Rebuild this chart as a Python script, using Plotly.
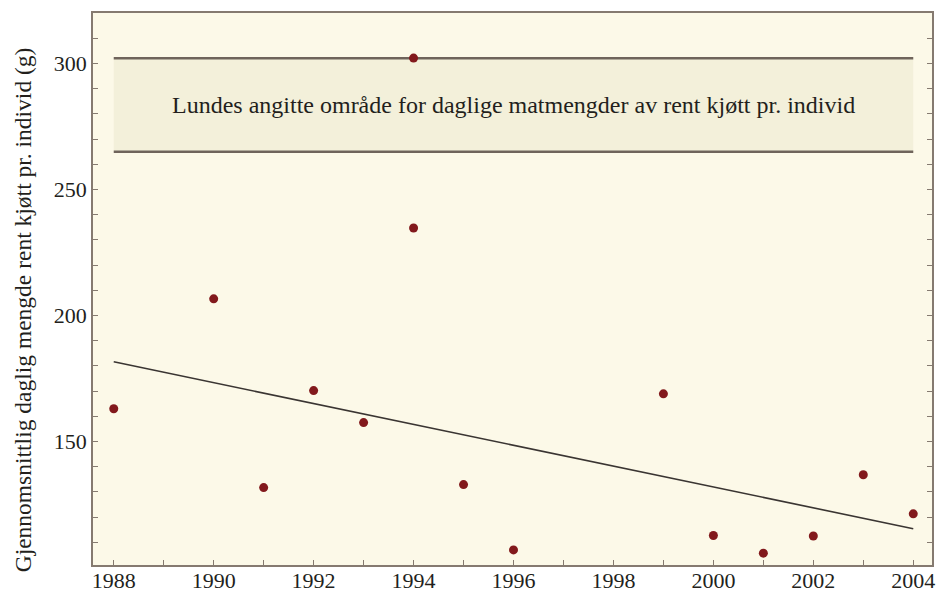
import plotly.graph_objects as go

years = [1988, 1990, 1991, 1992, 1993, 1994, 1994, 1995, 1996, 1999, 2000, 2001, 2002, 2003, 2004]
values = [163.0, 206.6, 131.7, 170.2, 157.5, 234.7, 302.1, 132.9, 107.0, 168.9, 112.7, 105.7, 112.5, 136.8, 121.3]

trend_years = [1988, 2004]
trend_values = [181.6, 115.4]

band_years = [1988, 2004]
band_low = 265.0
band_high = 302.0
band_label = "Lundes angitte område for daglige matmengder av rent kjøtt pr. individ"

y_title = "Gjennomsnittlig daglig mengde rent kjøtt pr. individ (g)"
x_ticks = [1988, 1990, 1992, 1994, 1996, 1998, 2000, 2002, 2004]
y_ticks = [150, 200, 250, 300]

font_family = "Liberation Serif"
axis_color = "#857a70"
text_color = "#231f1c"

fig = go.Figure()

# band fill
fig.add_trace(go.Scatter(
    x=[band_years[0], band_years[1], band_years[1], band_years[0], band_years[0]],
    y=[band_low, band_low, band_high, band_high, band_low],
    fill="toself", fillcolor="#f3f0da", mode="lines",
    line=dict(width=0), hoverinfo="skip", showlegend=False))
# band lines
for yv in (band_low, band_high):
    fig.add_trace(go.Scatter(
        x=band_years, y=[yv, yv], mode="lines",
        line=dict(color="#6f645b", width=2.5), showlegend=False, hoverinfo="skip"))

# trend line
fig.add_trace(go.Scatter(
    x=trend_years, y=trend_values, mode="lines",
    line=dict(color="#3a3532", width=1.6), showlegend=False))

# points
fig.add_trace(go.Scatter(
    x=years, y=values, mode="markers",
    marker=dict(color="#82191c", size=9), showlegend=False))

fig.add_annotation(
    x=(band_years[0] + band_years[1]) / 2, y=(band_low + band_high) / 2,
    text=band_label, showarrow=False,
    font=dict(family=font_family, size=24, color=text_color))

# y-axis title as rotated annotation
fig.add_annotation(
    xref="paper", yref="paper", x=-0.083, y=0.462,
    xanchor="center", yanchor="middle",
    text=y_title, textangle=-90, showarrow=False,
    font=dict(family=font_family, size=23.5, color=text_color))

fig.update_layout(
    width=937, height=592,
    margin=dict(l=93, r=5, t=13, b=27),
    paper_bgcolor="white",
    plot_bgcolor="#fcf9e8",
    font=dict(family=font_family, size=22, color=text_color),
    showlegend=False,
)

fig.update_xaxes(
    range=[1987.585, 2004.375], automargin=False,
    tickvals=x_ticks, ticktext=[str(v) for v in x_ticks],
    ticks="inside", ticklen=5, tickcolor=axis_color, tickwidth=1,
    minor=dict(dtick=1, tick0=1988, ticks="inside", ticklen=5, tickcolor=axis_color, tickwidth=1),
    showline=True, linecolor=axis_color, linewidth=1.5, mirror=True,
    showgrid=False, zeroline=False,
    ticklabelstandoff=-5,
    tickfont=dict(family=font_family, size=22, color=text_color),
)

fig.update_yaxes(
    range=[101, 320], automargin=False,
    tickvals=y_ticks, ticktext=[str(v) for v in y_ticks],
    ticks="inside", ticklen=5, tickcolor=axis_color, tickwidth=1,
    minor=dict(dtick=10, tick0=0, ticks="inside", ticklen=5, tickcolor=axis_color, tickwidth=1),
    showline=True, linecolor=axis_color, linewidth=1.5, mirror="ticks",
    showgrid=False, zeroline=False,
    tickfont=dict(family=font_family, size=22, color=text_color),
)

fig.write_html("out.html", config={"displayModeBar": False},
               post_script="document.body.style.margin='0';")
